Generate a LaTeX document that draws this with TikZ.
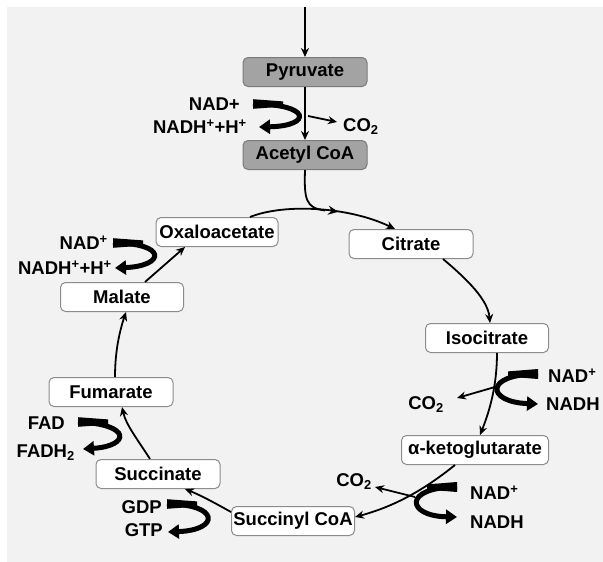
\documentclass[tikz,border=0pt]{standalone}
\usepackage{fontspec}
\setmainfont{Liberation Sans}
\usetikzlibrary{arrows.meta,decorations.markings}
\definecolor{bggray}{HTML}{F2F2F2}
\definecolor{boxline}{HTML}{8C8C8C}
\definecolor{darkbox}{HTML}{A3A3A3}
\definecolor{darkline}{HTML}{7A7A7A}
% tapered start of a cofactor band: going right (R) or left (L) from (#1,#2)
\newcommand{\bandR}[2]{\fill (#1,#2-4.8) -- (#1+30,#2-2.6) -- (#1+30,#2+2.6) -- (#1,#2+4.8) -- cycle;}
\newcommand{\bandL}[2]{\fill (#1,#2-5) -- (#1-30,#2-2.6) -- (#1-30,#2+2.6) -- (#1,#2+5) -- cycle;}
\begin{document}
\begin{tikzpicture}[x=1pt,y=-1pt,
  every node/.style={font=\fontsize{18.5}{20}\selectfont\bfseries},
  met/.style={draw=boxline, fill=white, rounded corners=5pt, line width=1pt, minimum height=29pt, inner sep=0pt},
  metd/.style={met, draw=darkline, fill=darkbox},
  conn/.style={line width=1.8pt, -{Stealth[length=9pt,width=8pt]}},
  cofarrow/.style={line width=5pt, -{Triangle[length=11pt,width=14pt]}},
  lbl/.style={inner sep=0pt},
  midarrow/.style={postaction={decorate},decoration={markings,mark=at position 0.6 with {\arrow{Stealth[length=10pt,width=9pt]}}}}
]
\useasboundingbox (0,0) rectangle (603,562);
\fill[bggray] (7,7) rectangle (603,562);

% metabolites
\node[metd, minimum width=124pt] (pyr) at (305,72) {Pyruvate};
\node[metd, minimum width=124pt] (acoa) at (305,155) {Acetyl CoA};
\node[met, minimum width=122pt] (oxa) at (217,232) {Oxaloacetate};
\node[met, minimum width=124pt] (cit) at (411,244) {Citrate};
\node[met, minimum width=123pt] (iso) at (487,338) {Isocitrate};
\node[met, minimum width=147pt] (akg) at (475,450) {α-ketoglutarate};
\node[met, minimum width=123pt] (scoa) at (293,521) {Succinyl CoA};
\node[met, minimum width=124pt] (succ) at (158,474) {Succinate};
\node[met, minimum width=124pt] (fum) at (111,392) {Fumarate};
\node[met, minimum width=123pt] (mal) at (122,297) {Malate};

% main flow
\coordinate (top) at (305,7);
\draw[conn] (top) -- (pyr.north);
\draw[conn] (pyr) -- (acoa);
\draw[conn, midarrow] ([xshift=33pt]oxa.north) .. controls (285,203) and (350,207) .. ([xshift=-16pt]cit.north);
\draw[line width=1.8pt] (acoa.south) .. controls (304,200) and (306,208) .. (325,210.5);
\draw[conn] ([xshift=32pt]cit.south) .. controls (468,280) and (488,300) .. ([xshift=3pt]iso.north);
\draw[conn] ([xshift=10pt]iso.south) .. controls (497,385) and (490,410) .. ([xshift=5pt]akg.north);
\draw[conn] ([xshift=-20pt]akg.south) .. controls (430,485) and (400,505) .. ([yshift=4pt]scoa.east);
\draw[conn] ([yshift=9pt]scoa.west) .. controls (215,503) and (200,495) .. ([xshift=27pt]succ.south);
\draw[conn] ([xshift=-8pt]succ.north) .. controls (138,440) and (126,425) .. ([xshift=11pt]fum.south);
\draw[conn] ([xshift=4pt]fum.north) .. controls (115,350) and (120,330) .. ([xshift=4pt]mal.south);
\draw[conn] ([xshift=23pt]mal.north) -- ([xshift=-32pt]oxa.south);

% pyruvate -> acetyl CoA cofactors
\node[lbl, anchor=base east] (nad1) at (240,110.5) {NAD+};
\node[lbl, anchor=base east] (nadh1) at (247,133.5) {NADH\textsuperscript{+}+H\textsuperscript{+}};
\node[lbl, anchor=base west] (co1) at (343,131) {CO\textsubscript{2}};
\coordinate (c1a) at (253,104);
\coordinate (c1b) at (259,127);
\bandR{253}{104}
\draw[cofarrow] (c1a) .. controls (312,104) and (312,126) .. (c1b);
\coordinate (c1c) at (308,116);
\coordinate (c1d) at (337,122);
\draw[conn] (c1c) -- (c1d);

% isocitrate -> alpha-KG
\node[lbl, anchor=base west] (nad2) at (548,382.5) {NAD\textsuperscript{+}};
\node[lbl, anchor=base west] (nadh2) at (546,410.5) {NADH};
\node[lbl, anchor=base east] (co2) at (444,409.5) {CO\textsubscript{2}};
\coordinate (c2a) at (538,374);
\coordinate (c2b) at (538,404);
\bandL{538}{374}
\draw[cofarrow] (c2a) .. controls (484,374) and (486,402) .. (c2b);
\coordinate (c2c) at (495,387);
\coordinate (c2d) at (457,398);
\draw[conn] (c2c) -- (c2d);

% alpha-KG -> succinyl CoA
\node[lbl, anchor=base west] (nad3) at (470,499.5) {NAD\textsuperscript{+}};
\node[lbl, anchor=base west] (nadh3) at (470,528.5) {NADH};
\node[lbl, anchor=base east] (co3) at (372,486.5) {CO\textsubscript{2}};
\coordinate (c3a) at (457,487);
\coordinate (c3b) at (457,517);
\bandL{457}{487}
\draw[cofarrow] (c3a) .. controls (403,487) and (406,516) .. (c3b);
\coordinate (c3c) at (415,497);
\coordinate (c3d) at (375,487);
\draw[conn] (c3c) -- (c3d);

% succinyl CoA -> succinate
\node[lbl, anchor=base east] (gdp) at (162,513.5) {GDP};
\node[lbl, anchor=base east] (gtp) at (163,536.5) {GTP};
\coordinate (c4a) at (167,504);
\coordinate (c4b) at (168,532);
\bandR{167}{504}
\draw[cofarrow] (c4a) .. controls (220,504) and (220,530) .. (c4b);

% succinate -> fumarate
\node[lbl, anchor=base east] (fad) at (65,429.5) {FAD};
\node[lbl, anchor=base east] (fadh) at (75,457.5) {FADH\textsubscript{2}};
\coordinate (c5a) at (78,422);
\coordinate (c5b) at (83,449);
\bandR{78}{422}
\draw[cofarrow] (c5a) .. controls (132,424) and (130,446) .. (c5b);

% malate -> oxaloacetate
\node[lbl, anchor=base east] (nad6) at (108,249.5) {NAD\textsuperscript{+}};
\node[lbl, anchor=base east] (nadh6) at (112,274.5) {NADH\textsuperscript{+}+H\textsuperscript{+}};
\coordinate (c6a) at (113,243);
\coordinate (c6b) at (115,268);
\bandR{113}{243}
\draw[cofarrow] (c6a) .. controls (168,243) and (165,266) .. (c6b);
\end{tikzpicture}
\end{document}
